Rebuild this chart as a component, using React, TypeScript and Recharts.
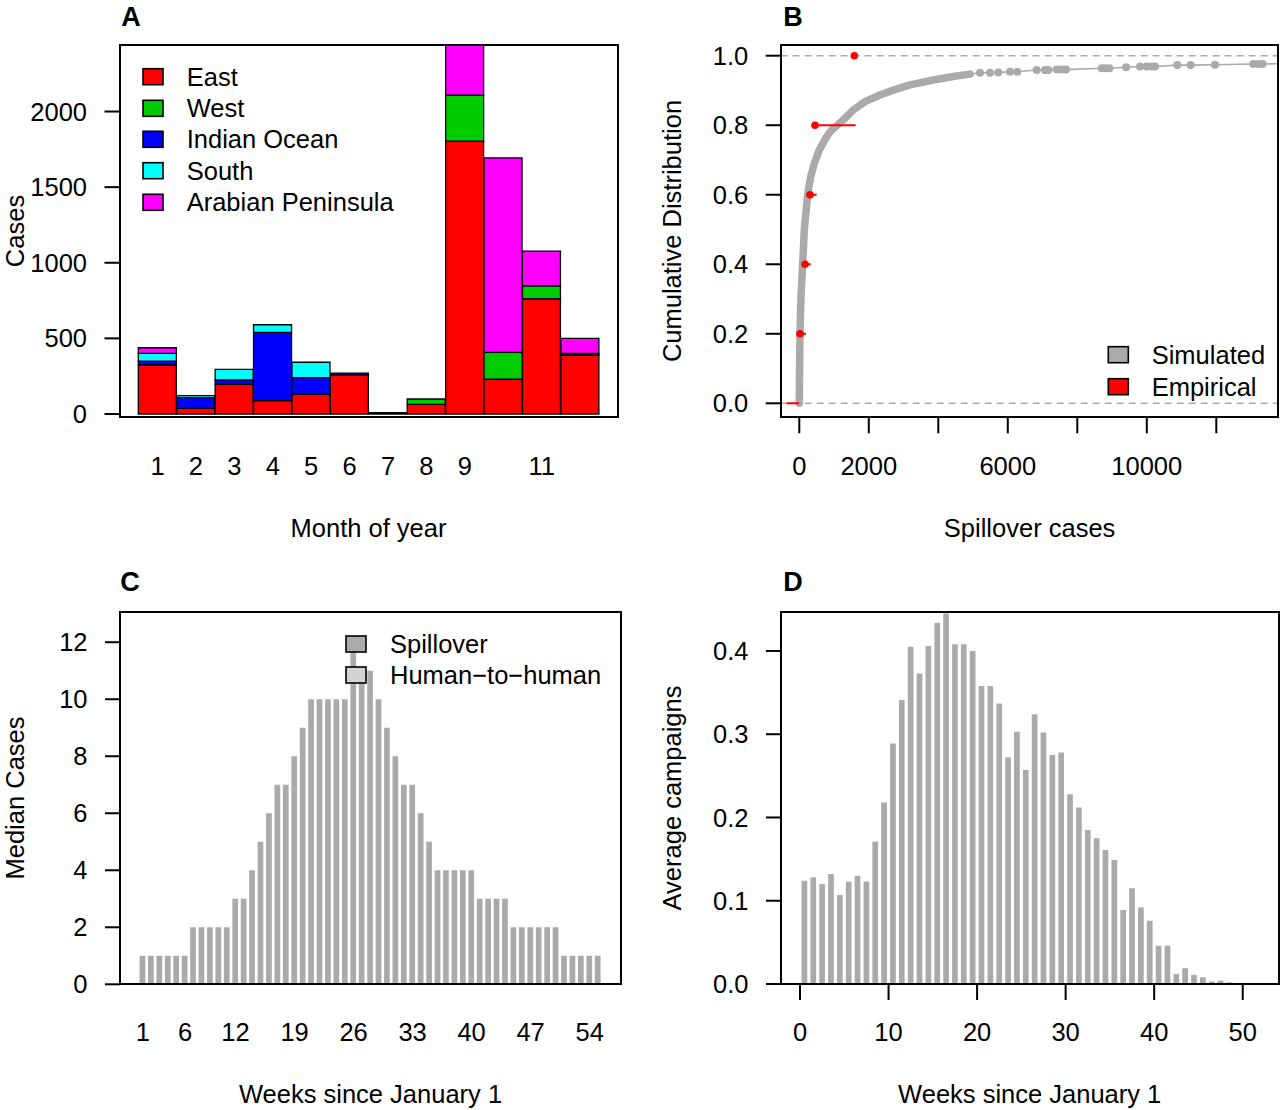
import React from "react";
import {
  BarChart,
  Bar,
  XAxis,
  YAxis,
  ComposedChart,
  Line,
  Scatter,
  ErrorBar,
  ReferenceLine,
} from "recharts";

const FONT = '"Liberation Sans", Arial, Helvetica, sans-serif';
const FS = 25.5;
const TICK = { fontSize: FS, fill: "#000", fontFamily: FONT };
const TICK_LINE = { stroke: "#000", strokeWidth: 2 };
const GREY = "#aaaaaa";

// ---- A: cases by month of year, stacked by region
const MONTHS = [1, 2, 3, 4, 5, 6, 7, 8, 9, 10, 11, 12];
const MONTH_LABELS = ["1", "2", "3", "4", "5", "6", "7", "8", "9", "", "11", ""];
const EAST = [324, 37, 196, 88, 130, 258, 8, 64, 1804, 231, 762, 390];
const WEST = [0, 0, 0, 0, 0, 0, 0, 35, 304, 177, 86, 10];
const INDIAN_OCEAN = [26, 71, 29, 452, 110, 12, 0, 0, 0, 0, 0, 0];
const SOUTH = [51, 13, 70, 50, 102, 0, 0, 0, 0, 0, 0, 0];
const ARABIAN = [37, 0, 0, 0, 0, 0, 0, 0, 332, 1286, 229, 100];
const CASES_TICKS = [0, 500, 1000, 1500, 2000];

const REGIONS = [
  { key: "east", name: "East", color: "#ff0000", values: EAST },
  { key: "west", name: "West", color: "#00cd00", values: WEST },
  { key: "indian", name: "Indian Ocean", color: "#0000ff", values: INDIAN_OCEAN },
  { key: "south", name: "South", color: "#00ffff", values: SOUTH },
  { key: "arabian", name: "Arabian Peninsula", color: "#ff00ff", values: ARABIAN },
];

// ---- B: spillover cases CDF, simulated vs empirical
const SIM_X = [0, 10, 20, 49, 97, 145, 241, 327, 433, 577, 788, 932, 1095, 1315, 1555, 1891, 2322, 2706, 3186, 3857, 4433, 4912];
const SIM_Y = [0, 0.115, 0.2, 0.307, 0.4, 0.5, 0.6, 0.652, 0.69, 0.729, 0.767, 0.786, 0.8, 0.82, 0.844, 0.868, 0.887, 0.901, 0.916, 0.93, 0.94, 0.947];
const TAIL_X = [5200, 5488, 5728, 6063, 6274, 6831, 7071, 7167, 7407, 7551, 7676, 8703, 8799, 8924, 9404, 9805, 9997, 10141, 10237, 10878, 11262, 11962, 13065, 13209, 13334];
const TAIL_Y = [0.951, 0.951, 0.952, 0.954, 0.954, 0.959, 0.959, 0.959, 0.96, 0.96, 0.96, 0.964, 0.964, 0.964, 0.967, 0.969, 0.969, 0.969, 0.969, 0.973, 0.973, 0.974, 0.976, 0.976, 0.976];
const TAIL_END = { x: 13790, y: 0.977 };
const EMP_Y = [0, 0.2, 0.4, 0.6, 0.8, 1.0];
const EMP_X = [0, 20, 164, 308, 452, 1584];
const EMP_LO = [-365, -60, 90, 210, 360, 1584];
const EMP_HI = [0, 193, 328, 500, 1622, 1584];
const SPILL_TICKS = [0, 2000, 4000, 6000, 8000, 10000, 12000];
const SPILL_LABELS = [0, 2000, 6000, 10000];
const CDF_TICKS = [0, 0.2, 0.4, 0.6, 0.8, 1.0];

// ---- C: median cases per week
const WEEKS = [
  1, 2, 3, 4, 5, 6, 7, 8, 9, 10, 11, 12, 13, 14, 15, 16, 17, 18, 19, 20,
  21, 22, 23, 24, 25, 26, 27, 28, 29, 30, 31, 32, 33, 34, 35, 36, 37, 38, 39, 40,
  41, 42, 43, 44, 45, 46, 47, 48, 49, 50, 51, 52, 53, 54, 55,
];
const SPILLOVER = [
  1, 1, 1, 1, 1, 1, 2, 2, 2, 2, 2, 3, 3, 4, 5, 6, 7, 7, 8, 9,
  10, 10, 10, 10, 10, 12, 11, 11, 10, 9, 8, 7, 7, 6, 5, 4, 4, 4, 4, 4,
  3, 3, 3, 3, 2, 2, 2, 2, 2, 2, 1, 1, 1, 1, 1,
];
const WEEK_LABELS = [1, 6, 12, 19, 26, 33, 40, 47, 54];
const MEDIAN_TICKS = [0, 2, 4, 6, 8, 10, 12];

// ---- D: average campaigns per week
const CAMPAIGNS = [
  0.124, 0.128, 0.12, 0.132, 0.107, 0.123, 0.13, 0.123, 0.171, 0.218,
  0.289, 0.341, 0.405, 0.373, 0.406, 0.434, 0.445, 0.408, 0.408, 0.4,
  0.358, 0.358, 0.337, 0.272, 0.303, 0.257, 0.324, 0.302, 0.275, 0.278,
  0.228, 0.212, 0.185, 0.175, 0.161, 0.149, 0.089, 0.115, 0.092, 0.076,
  0.046, 0.046, 0.012, 0.019, 0.011, 0.008, 0.003, 0.004, 0.002,
];
const WEEK_TICKS = [0, 10, 20, 30, 40, 50];
const CAMPAIGN_TICKS = [0, 0.1, 0.2, 0.3, 0.4];

const monthData = MONTHS.map((m, i) => {
  const row: any = { month: m };
  REGIONS.forEach((r) => (row[r.key] = r.values[i]));
  return row;
});
const simData = SIM_X.map((x, i) => ({ x, y: SIM_Y[i] }));
const tailDots = TAIL_X.map((x, i) => ({ x, y: TAIL_Y[i] }));
const tailLine = [simData[simData.length - 1], ...tailDots, TAIL_END];
const empData = EMP_X.map((x, i) => ({ x, y: EMP_Y[i], err: [x - EMP_LO[i], EMP_HI[i] - x] }));
const weekData = WEEKS.map((w, i) => ({ week: w, spill: SPILLOVER[i] }));
const campaignData = CAMPAIGNS.map((v, i) => ({ x: i + 0.45, v }));

function PlotBox({ x, y, w, h }: { x: number; y: number; w: number; h: number }) {
  return (
    <div
      style={{
        position: "absolute",
        left: x - 1,
        top: y - 1,
        width: w + 2,
        height: h + 2,
        border: "2px solid #000",
        boxSizing: "border-box",
        pointerEvents: "none",
      }}
    />
  );
}

function LegendItems({ x, tx, ys, items }: { x: number; tx: number; ys: number[]; items: { name: string; color: string }[] }) {
  return (
    <g>
      {items.map((it, i) => (
        <g key={it.name}>
          <rect x={x} y={ys[i] - 8} width={20} height={16} fill={it.color} stroke="#000" strokeWidth={1.6} />
          <text x={tx} y={ys[i]} dominantBaseline="central" fontSize={FS}>
            {it.name}
          </text>
        </g>
      ))}
    </g>
  );
}

export default function App() {
  return (
    <div style={{ position: "absolute", left: 0, top: 0, width: 1280, height: 1110, background: "#fff", fontFamily: FONT }}>
      {/* A */}
      <div style={{ position: "absolute", left: 0, top: 0 }}>
        <BarChart width={640} height={560} data={monthData} margin={{ top: 45, right: 22.5, bottom: 0, left: 0 }} barCategoryGap={0}>
          <XAxis
            dataKey="month"
            interval={0}
            height={143.3}
            padding={{ left: 18.8, right: 18.2 }}
            tickLine={false}
            axisLine={false}
            tickSize={0}
            tickMargin={40.3}
            tick={TICK}
            tickFormatter={(v) => MONTH_LABELS[v - 1]}
          />
          <YAxis
            domain={[-18, 2440]}
            allowDataOverflow
            ticks={CASES_TICKS}
            interval={0}
            width={119.5}
            axisLine={false}
            tickLine={TICK_LINE}
            tickSize={15}
            tickMargin={17.5}
            tick={TICK}
          />
          {REGIONS.map((r) => (
            <Bar key={r.key} dataKey={r.key} stackId="a" fill={r.color} stroke="#000" strokeWidth={1.3} isAnimationActive={false} />
          ))}
        </BarChart>
      </div>
      <PlotBox x={119.5} y={45} w={498} h={371.7} />

      {/* B */}
      <div style={{ position: "absolute", left: 640, top: 0 }}>
        <ComposedChart width={640} height={560} margin={{ top: 45, right: 1.5, bottom: 0, left: 0 }}>
          <XAxis
            type="number"
            dataKey="x"
            domain={[-535, 13790]}
            allowDataOverflow
            ticks={SPILL_TICKS}
            interval={0}
            height={142.7}
            axisLine={false}
            tickLine={TICK_LINE}
            tickSize={16}
            tickMargin={23.7}
            tick={TICK}
            tickFormatter={(v) => (SPILL_LABELS.includes(v) ? String(v) : "")}
          />
          <YAxis
            type="number"
            dataKey="y"
            domain={[-0.0403, 1.0308]}
            allowDataOverflow
            ticks={CDF_TICKS}
            interval={0}
            width={140.7}
            axisLine={false}
            tickLine={TICK_LINE}
            tickSize={15}
            tickMargin={17.5}
            tick={TICK}
            tickFormatter={(v) => v.toFixed(1)}
          />
          <ReferenceLine y={0} stroke={GREY} strokeWidth={1.6} strokeDasharray="7 5" />
          <ReferenceLine y={1} stroke={GREY} strokeWidth={1.6} strokeDasharray="7 5" />
          <Line
            data={simData}
            dataKey="y"
            type="linear"
            stroke={GREY}
            strokeWidth={7.5}
            strokeLinecap="round"
            strokeLinejoin="round"
            dot={false}
            isAnimationActive={false}
          />
          <Line data={tailLine} dataKey="y" type="linear" stroke={GREY} strokeWidth={1.6} dot={false} isAnimationActive={false} />
          <Scatter
            data={tailDots}
            dataKey="y"
            fill={GREY}
            isAnimationActive={false}
            shape={(p: any) => <circle cx={p.cx} cy={p.cy} r={4} fill={GREY} />}
          />
          <Scatter
            data={empData}
            dataKey="y"
            fill="#ff0000"
            isAnimationActive={false}
            shape={(p: any) => (p.payload.y > 0 ? <circle cx={p.cx} cy={p.cy} r={3.8} fill="#ff0000" /> : <g />)}
          >
            <ErrorBar dataKey="err" direction="x" width={0} stroke="#ff0000" strokeWidth={2} isAnimationActive={false} />
          </Scatter>
        </ComposedChart>
      </div>
      <PlotBox x={780.7} y={45} w={497.8} h={372.3} />

      {/* C */}
      <div style={{ position: "absolute", left: 0, top: 560 }}>
        <BarChart width={640} height={550} data={weekData} margin={{ top: 52, right: 19, bottom: 0, left: 0 }} barSize={5.7}>
          <XAxis
            dataKey="week"
            interval={0}
            height={125.7}
            padding={{ left: 18.6, right: 18.7 }}
            tickLine={false}
            axisLine={false}
            tickSize={0}
            tickMargin={38.7}
            tick={TICK}
            tickFormatter={(v) => (WEEK_LABELS.includes(v) ? String(v) : "")}
          />
          <YAxis
            domain={[0, 13.06]}
            allowDataOverflow
            ticks={MEDIAN_TICKS}
            interval={0}
            width={120}
            axisLine={false}
            tickLine={TICK_LINE}
            tickSize={15}
            tickMargin={17.5}
            tick={TICK}
          />
          <Bar dataKey="spill" fill={GREY} isAnimationActive={false} />
        </BarChart>
      </div>
      <PlotBox x={120} y={612} w={501} h={372.3} />

      {/* D */}
      <div style={{ position: "absolute", left: 640, top: 560 }}>
        <BarChart width={640} height={550} data={campaignData} margin={{ top: 52, right: 1.5, bottom: 0, left: 0 }} barSize={5.7}>
          <XAxis
            type="number"
            dataKey="x"
            domain={[-2.146, 54.04]}
            allowDataOverflow
            ticks={WEEK_TICKS}
            interval={0}
            height={126}
            axisLine={false}
            tickLine={TICK_LINE}
            tickSize={16}
            tickMargin={23}
            tick={TICK}
          />
          <YAxis
            domain={[0, 0.4468]}
            allowDataOverflow
            ticks={CAMPAIGN_TICKS}
            interval={0}
            width={141}
            axisLine={false}
            tickLine={TICK_LINE}
            tickSize={15}
            tickMargin={17.5}
            tick={TICK}
            tickFormatter={(v) => v.toFixed(1)}
          />
          <Bar dataKey="v" fill={GREY} isAnimationActive={false} />
        </BarChart>
      </div>
      <PlotBox x={781} y={612} w={497.5} h={372} />

      {/* titles, axis labels, legends */}
      <svg width={1280} height={1110} style={{ position: "absolute", left: 0, top: 0, pointerEvents: "none" }} fontFamily={FONT}>
        <g fontWeight="bold" fontSize={27} textAnchor="middle">
          <text x={131} y={25.5}>A</text>
          <text x={793} y={25.5}>B</text>
          <text x={130} y={591}>C</text>
          <text x={793} y={591}>D</text>
        </g>
        <g fontSize={FS} textAnchor="middle">
          <text x={368.5} y={528} dominantBaseline="central">Month of year</text>
          <text x={1029.6} y={528} dominantBaseline="central">Spillover cases</text>
          <text x={370.5} y={1094} dominantBaseline="central">Weeks since January 1</text>
          <text x={1029.7} y={1094} dominantBaseline="central">Weeks since January 1</text>
          <text transform="translate(23.5,231) rotate(-90)">Cases</text>
          <text transform="translate(681,231) rotate(-90)">Cumulative Distribution</text>
          <text transform="translate(23.5,798) rotate(-90)">Median Cases</text>
          <text transform="translate(681,798) rotate(-90)">Average campaigns</text>
        </g>
        <LegendItems x={143} tx={186.7} ys={[76.7, 108.3, 139.3, 170.7, 202.3]} items={REGIONS} />
        <LegendItems
          x={1108.3}
          tx={1151.7}
          ys={[354.7, 386.7]}
          items={[
            { name: "Simulated", color: GREY },
            { name: "Empirical", color: "#ff0000" },
          ]}
        />
        <LegendItems
          x={346}
          tx={390}
          ys={[644, 675]}
          items={[
            { name: "Spillover", color: GREY },
            { name: "Human\u2212to\u2212human", color: "#d3d3d3" },
          ]}
        />
      </svg>
    </div>
  );
}
